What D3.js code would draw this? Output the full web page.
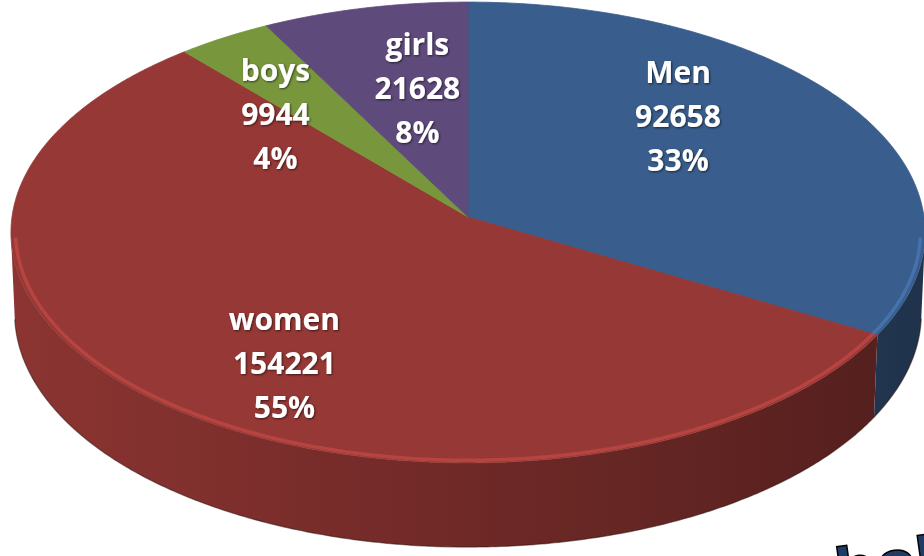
<!DOCTYPE html>
<html>
<head>
<meta charset="utf-8">
<script src="https://cdn.jsdelivr.net/npm/d3@7"></script>
<style>
body{margin:0;background:#fff;overflow:hidden}
svg{display:block}
</style>
</head>
<body>
<svg width="924" height="556"></svg>
<script>
var categories = ["Men", "women", "boys", "girls"]
var values = [92658, 154221, 9944, 21628]
var topColors = ["#395d8c", "#963835", "#78973d", "#5f4a7c"]

// small layout nudges for the labels (px), like excel puts them
var labelShift = [[-22, -33], [-4, 36], [-43, 7], [13, 0]]

var svg = d3.select("svg")
var defs = svg.append("defs")

/* perspective disc
--------------------------------------------------------------------------------
*/
var cx = 468, cy = 217, rx = 456,
    dist = 12.86, tilt = 30.2 * Math.PI / 180, thick = 0.206,
    focal = rx * dist

function project(a, r, yw){
    var X = r * Math.sin(a), Z = r * Math.cos(a)
    var yc = yw * Math.cos(tilt) + Z * Math.sin(tilt)
    var dz = -yw * Math.sin(tilt) + Z * Math.cos(tilt) + dist
    return [cx + focal * X / dz, cy - focal * yc / dz]
}

var total = d3.sum(values)
var pct = d3.format(".0%")
var arcs = d3.pie().sort(null).value(function(d){ return d })(values)
var line = d3.line()
var step = Math.PI / 360

// side wall only where it faces the camera
var edge = Math.acos(-1 / (dist * Math.cos(tilt)))

function shade(base, a){
    var k = 0.74 - 0.2 * Math.sin(a)
    return d3.interpolateRgb("#000", base)(k)
}

function rimRange(d){
    return [Math.max(d.startAngle, edge), Math.min(d.endAngle, 2 * Math.PI - edge)]
}

var walls = svg.append("g")
arcs.forEach(function(d, i){
    var lo = rimRange(d)[0], hi = rimRange(d)[1]
    if (lo >= hi) return
    var angs = d3.range(lo, hi, step).concat([hi])
    var top = angs.map(function(a){ return project(a, 1, 0) })
    var bot = angs.map(function(a){ return project(a, 1, -thick) }).reverse()

    // horizontal gradient, x runs one way along the front rim
    var x0 = top[0][0], x1 = top[top.length - 1][0]
    var g = defs.append("linearGradient")
        .attr("id", "wall" + i)
        .attr("gradientUnits", "userSpaceOnUse")
        .attr("x1", x0).attr("y1", 0).attr("x2", x1).attr("y2", 0)
    d3.range(lo, hi, Math.PI / 36).concat([hi]).forEach(function(a){
        g.append("stop")
            .attr("offset", (project(a, 1, 0)[0] - x0) / (x1 - x0 || 1))
            .attr("stop-color", shade(topColors[i], a))
    })
    walls.append("path")
        .attr("d", line(top.concat(bot)) + "Z")
        .attr("fill", "url(#wall" + i + ")")
})

// dark outline on the bottom edge
walls.append("path")
    .attr("d", line(d3.range(edge, 2 * Math.PI - edge, step).map(function(a){ return project(a, 1, -thick) })))
    .attr("fill", "none")
    .attr("stroke", "#2a0d0c")
    .attr("stroke-opacity", 0.5)
    .attr("stroke-width", 1.2)

/* top faces
--------------------------------------------------------------------------------
*/
var tops = svg.append("g")
arcs.forEach(function(d, i){
    var pts = [project(0, 0, 0)]
    d3.range(d.startAngle, d.endAngle, step).forEach(function(a){ pts.push(project(a, 1, 0)) })
    pts.push(project(d.endAngle, 1, 0))
    tops.append("path")
        .attr("d", line(pts) + "Z")
        .attr("fill", topColors[i])
        .attr("stroke", topColors[i])
        .attr("stroke-width", 0.8)
})

// light bevel along the front rim
arcs.forEach(function(d, i){
    var lo = rimRange(d)[0], hi = rimRange(d)[1]
    if (lo >= hi) return
    var pts = d3.range(lo, hi, step).map(function(a){ return project(a, 0.99, 0) })
    pts.push(project(hi, 0.99, 0))
    tops.append("path")
        .attr("d", line(pts))
        .attr("fill", "none")
        .attr("stroke", d3.color(topColors[i]).brighter(0.9))
        .attr("stroke-width", 3.5)
        .attr("stroke-opacity", 0.6)
})

/* labels
--------------------------------------------------------------------------------
*/
defs.append("filter").attr("id", "sh")
    .append("feDropShadow")
    .attr("dx", 1).attr("dy", 1).attr("stdDeviation", 1)
    .attr("flood-color", "#000").attr("flood-opacity", 0.6)

var labels = svg.append("g")
    .attr("font-family", "'Open Sans', sans-serif")
    .attr("font-weight", "bold")
    .attr("font-size", 30)
    .attr("fill", "#fff")
    .attr("text-anchor", "middle")
    .attr("filter", "url(#sh)")

arcs.forEach(function(d, i){
    var p = project((d.startAngle + d.endAngle) / 2, 0.6, 0)
    var x = p[0] + labelShift[i][0], y = p[1] + labelShift[i][1]
    var lines = [categories[i], values[i], pct(values[i] / total)]
    lines.forEach(function(t, j){
        labels.append("text")
            .attr("x", x)
            .attr("y", y + 11 + (j - 1) * 44)
            .text(t)
    })
})

// watermark peeking in at the corner
svg.append("text")
    .attr("transform", "translate(838,591) rotate(-8)")
    .attr("font-family", "DejaVu Sans")
    .attr("font-weight", "bold")
    .attr("font-size", 58)
    .attr("fill", "#1f3b66")
    .attr("stroke", "#000")
    .attr("stroke-width", 1.5)
    .text("bol")
</script>
</body>
</html>
